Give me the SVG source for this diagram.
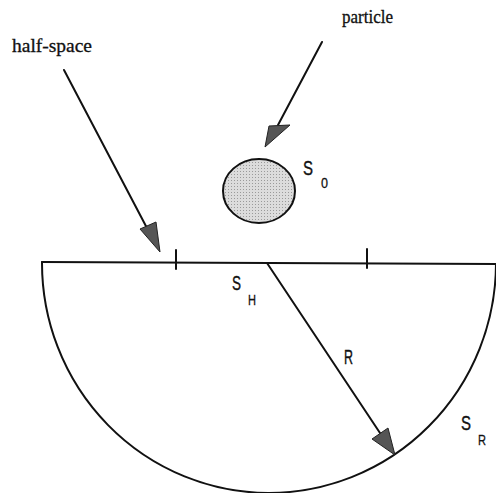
<svg xmlns="http://www.w3.org/2000/svg" width="496" height="493" viewBox="0 0 496 493">
<style>
.ln{stroke:#111;stroke-width:2;fill:none;stroke-linecap:round}
.ah{fill:#555;stroke:#222;stroke-width:1;stroke-linejoin:round}
.serif{font-family:"Liberation Serif",serif;font-size:18px;fill:#111;stroke:#111;stroke-width:0.3}
.lab{font-family:"Liberation Sans",sans-serif;font-size:21px;fill:#111;stroke:#111;stroke-width:0.4}
.sub{font-family:"Liberation Sans",sans-serif;font-size:15px;fill:#111;stroke:#111;stroke-width:0.3}
</style>
<defs>
<pattern id="dots" width="3" height="3" patternUnits="userSpaceOnUse">
<rect width="3" height="3" fill="#dcdcdc"/>
<rect width="1" height="1" fill="#9a9a9a"/>
</pattern>
</defs>
<g id="halfspace">
<path class="ln" d="M42,262 A227,230 0 0 0 496,264"/>
<line class="ln" x1="42" y1="262" x2="496" y2="264"/>
<line class="ln" x1="176" y1="250" x2="176" y2="269" stroke-width="1.5"/>
<line class="ln" x1="367" y1="249" x2="367" y2="268" stroke-width="1.5"/>
<text class="lab" x="232" y="290" textLength="9" lengthAdjust="spacingAndGlyphs">S</text>
<text class="sub" x="248" y="305" textLength="8" lengthAdjust="spacingAndGlyphs">H</text>
<text class="lab" x="461" y="430" textLength="10" lengthAdjust="spacingAndGlyphs">S</text>
<text class="sub" x="478" y="445" textLength="8" lengthAdjust="spacingAndGlyphs">R</text>
</g>
<g id="particle">
<ellipse cx="259" cy="191" rx="36" ry="32" fill="url(#dots)" stroke="#111" stroke-width="2"/>
<text class="lab" x="303" y="175" textLength="10" lengthAdjust="spacingAndGlyphs">S</text>
<text class="sub" x="321" y="188" textLength="7" lengthAdjust="spacingAndGlyphs">0</text>
</g>
<g id="labels">
<text class="serif" x="12" y="52" textLength="80" lengthAdjust="spacingAndGlyphs">half-space</text>
<text class="serif" x="342" y="23" textLength="51" lengthAdjust="spacingAndGlyphs">particle</text>
<text class="lab" x="344" y="364" textLength="9" lengthAdjust="spacingAndGlyphs">R</text>
</g>
<g id="connectors">
<line class="ln" x1="64" y1="70" x2="148" y2="230"/>
<polygon class="ah" points="160,252 140,229 156,222"/>
<line class="ln" x1="322" y1="42" x2="278" y2="125"/>
<polygon class="ah" points="265,147 269,126 290,125"/>
<line class="ln" x1="267" y1="263" x2="382" y2="436"/>
<polygon class="ah" points="395,455 372,439 388,428"/>
</g>
</svg>
